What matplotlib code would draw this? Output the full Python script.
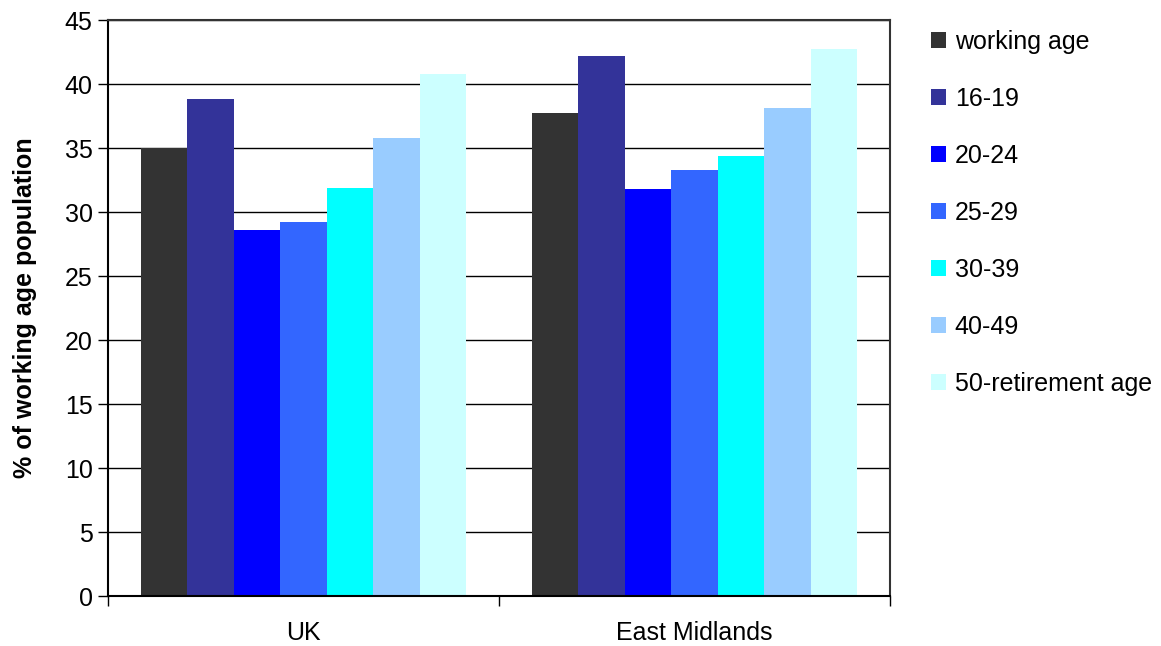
import numpy as np
import matplotlib.pyplot as plt

# data
regions = ['UK', 'East Midlands']
age_groups = ['working age', '16-19', '20-24', '25-29', '30-39', '40-49', '50-retirement age']
uk_values = [35.0, 38.8, 28.6, 29.2, 31.9, 35.8, 40.8]
em_values = [37.7, 42.2, 31.8, 33.3, 34.4, 38.1, 42.7]
colors = ['#333333', '#333399', '#0000FF', '#3366FF', '#00FFFF', '#99CCFF', '#CCFFFF']
y_ticks = list(range(0, 50, 5))

plt.rcParams['font.family'] = ['Liberation Sans', 'DejaVu Sans']
FS = 18

fig = plt.figure(figsize=(11.61, 6.46), dpi=100)
ax = fig.add_axes([108 / 1161, 1 - 596 / 646, (890 - 108) / 1161, (596 - 20) / 646])

values = np.array([uk_values, em_values])
n = len(age_groups)
group_w = 1 / 1.2
bar_w = group_w / n
x = np.arange(len(regions))

# gridlines behind bars
for t in y_ticks[1:]:
    ax.axhline(t, color='black', linewidth=1.0, zorder=0)

handles = []
for i, name in enumerate(age_groups):
    offs = -group_w / 2 + bar_w * (i + 0.5)
    b = ax.bar(x + offs, values[:, i], width=bar_w, color=colors[i],
               edgecolor='none', label=name, zorder=2)
    handles.append(b)

ax.set_xlim(-0.5, 1.5)
ax.set_ylim(0, 45)
ax.set_yticks(y_ticks)
ax.set_yticklabels([str(t) for t in y_ticks], fontsize=FS)
ax.tick_params(axis='y', direction='out', length=7, width=1, pad=4)

# category labels between boundary ticks
ax.set_xticks([-0.5, 0.5, 1.5])
ax.set_xticklabels([])
ax.tick_params(axis='x', direction='out', length=7, width=1)
ax.set_xticks(x, minor=True)
ax.set_xticklabels(regions, minor=True, fontsize=FS)
ax.tick_params(axis='x', which='minor', length=0, pad=18)

ax.set_ylabel('% of working age population', fontsize=FS, fontweight='bold', labelpad=20)

for side in ['left', 'bottom']:
    ax.spines[side].set_linewidth(1.5)
    ax.spines[side].set_color('black')
for side in ['top', 'right']:
    ax.spines[side].set_linewidth(1.5)
    ax.spines[side].set_color('#333333')

fig.legend(handles=handles, labels=age_groups, loc='upper left',
           bbox_to_anchor=(921 / 1161, 1 - 20 / 646), frameon=False,
           fontsize=FS, handlelength=0.6, handleheight=0.6, handletextpad=0.35,
           labelspacing=1.32, borderaxespad=0)

fig.savefig('out.png', dpi=100)
